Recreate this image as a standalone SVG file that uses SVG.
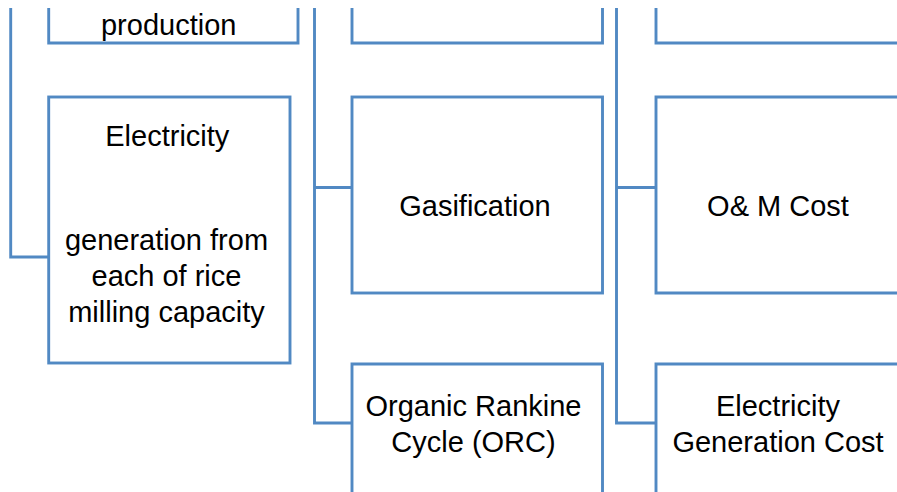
<svg xmlns="http://www.w3.org/2000/svg" width="897" height="492" viewBox="0 0 897 492">
<style>
.b{fill:#ffffff;stroke:#5189C3;stroke-width:2.9}
.c{fill:none;stroke:#5189C3;stroke-width:2.9}
.t{font-family:"Liberation Sans",Arial,sans-serif;font-size:29px;fill:#000000;text-anchor:middle}
</style>
<rect width="897" height="492" fill="#ffffff"/>
<g id="connectors">
<path class="c" d="M10.7 8 V257 H48.7"/>
<path class="c" d="M314.5 8 V423 H352 M314.5 187.5 H352"/>
<path class="c" d="M616.5 8 V423 H656 M616.5 187.5 H656"/>
</g>
<g id="node-production">
<path class="b" d="M48.7 8 V43 H298 V8"/>
<text class="t" x="168.7" y="34.5">production</text>
</g>
<g id="node-top-middle">
<path class="b" d="M352 8 V43 H602.5 V8"/>
</g>
<g id="node-top-right">
<path class="b" d="M656 8 V43 H900"/>
</g>
<g id="node-electricity-generation">
<rect class="b" x="48.7" y="97" width="241.3" height="266"/>
<text class="t" x="167.3" y="146">Electricity</text>
<text class="t" x="166.5" y="250">generation from</text>
<text class="t" x="166.5" y="286">each of rice</text>
<text class="t" x="166.5" y="322">milling capacity</text>
</g>
<g id="node-gasification">
<rect class="b" x="352" y="97" width="250.5" height="196"/>
<text class="t" x="475" y="216">Gasification</text>
</g>
<g id="node-orc">
<path class="b" d="M352 495 V364 H602.5 V495"/>
<text class="t" x="473.5" y="415.5">Organic Rankine</text>
<text class="t" x="473.5" y="452">Cycle (ORC)</text>
</g>
<g id="node-om-cost">
<path class="b" d="M900 97 H656 V293 H900"/>
<text class="t" x="778" y="216">O&amp; M Cost</text>
</g>
<g id="node-generation-cost">
<path class="b" d="M900 364 H656 V495"/>
<text class="t" x="778" y="415.5">Electricity</text>
<text class="t" x="778" y="452">Generation Cost</text>
</g>
</svg>
